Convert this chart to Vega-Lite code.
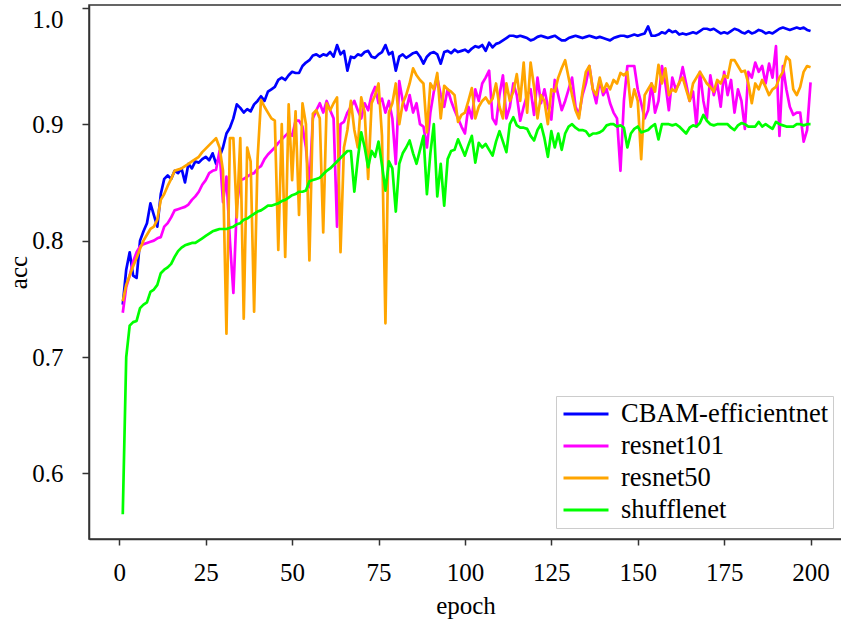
{
  "$schema": "https://vega.github.io/schema/vega-lite/v6.json",
  "width": 753,
  "height": 534,
  "autosize": {"type": "none"},
  "padding": {"left": 89, "top": 5, "right": 0, "bottom": 91},
  "background": "white",
  "config": {
    "view": {"stroke": "#333333", "strokeWidth": 1.5},
    "font": "Liberation Serif",
    "axis": {"grid": false, "labelColor": "#000000", "titleColor": "#000000", "tickColor": "#333333", "domainColor": "#333333", "domainWidth": 1.5, "tickWidth": 1.5, "labelFont": "Liberation Serif", "titleFont": "Liberation Serif", "labelFontSize": 25, "titleFontSize": 25, "titleFontWeight": "normal"}
  },
  "data": {"values": [
    {"epoch":1,"model":"CBAM-efficientnet","acc":0.745},{"epoch":2,"model":"CBAM-efficientnet","acc":0.775},{"epoch":3,"model":"CBAM-efficientnet","acc":0.790},{"epoch":4,"model":"CBAM-efficientnet","acc":0.770},{"epoch":5,"model":"CBAM-efficientnet","acc":0.768},
    {"epoch":6,"model":"CBAM-efficientnet","acc":0.800},{"epoch":7,"model":"CBAM-efficientnet","acc":0.808},{"epoch":8,"model":"CBAM-efficientnet","acc":0.815},{"epoch":9,"model":"CBAM-efficientnet","acc":0.832},{"epoch":10,"model":"CBAM-efficientnet","acc":0.822},
    {"epoch":11,"model":"CBAM-efficientnet","acc":0.812},{"epoch":12,"model":"CBAM-efficientnet","acc":0.840},{"epoch":13,"model":"CBAM-efficientnet","acc":0.853},{"epoch":14,"model":"CBAM-efficientnet","acc":0.856},{"epoch":15,"model":"CBAM-efficientnet","acc":0.853},
    {"epoch":16,"model":"CBAM-efficientnet","acc":0.860},{"epoch":17,"model":"CBAM-efficientnet","acc":0.858},{"epoch":18,"model":"CBAM-efficientnet","acc":0.862},{"epoch":19,"model":"CBAM-efficientnet","acc":0.850},{"epoch":20,"model":"CBAM-efficientnet","acc":0.866},
    {"epoch":21,"model":"CBAM-efficientnet","acc":0.862},{"epoch":22,"model":"CBAM-efficientnet","acc":0.868},{"epoch":23,"model":"CBAM-efficientnet","acc":0.867},{"epoch":24,"model":"CBAM-efficientnet","acc":0.870},{"epoch":25,"model":"CBAM-efficientnet","acc":0.872},
    {"epoch":26,"model":"CBAM-efficientnet","acc":0.869},{"epoch":27,"model":"CBAM-efficientnet","acc":0.875},{"epoch":28,"model":"CBAM-efficientnet","acc":0.866},{"epoch":29,"model":"CBAM-efficientnet","acc":0.872},{"epoch":30,"model":"CBAM-efficientnet","acc":0.880},
    {"epoch":31,"model":"CBAM-efficientnet","acc":0.892},{"epoch":32,"model":"CBAM-efficientnet","acc":0.897},{"epoch":33,"model":"CBAM-efficientnet","acc":0.905},{"epoch":34,"model":"CBAM-efficientnet","acc":0.917},{"epoch":35,"model":"CBAM-efficientnet","acc":0.914},
    {"epoch":36,"model":"CBAM-efficientnet","acc":0.910},{"epoch":37,"model":"CBAM-efficientnet","acc":0.913},{"epoch":38,"model":"CBAM-efficientnet","acc":0.911},{"epoch":39,"model":"CBAM-efficientnet","acc":0.917},{"epoch":40,"model":"CBAM-efficientnet","acc":0.920},
    {"epoch":41,"model":"CBAM-efficientnet","acc":0.924},{"epoch":42,"model":"CBAM-efficientnet","acc":0.920},{"epoch":43,"model":"CBAM-efficientnet","acc":0.928},{"epoch":44,"model":"CBAM-efficientnet","acc":0.930},{"epoch":45,"model":"CBAM-efficientnet","acc":0.932},
    {"epoch":46,"model":"CBAM-efficientnet","acc":0.938},{"epoch":47,"model":"CBAM-efficientnet","acc":0.940},{"epoch":48,"model":"CBAM-efficientnet","acc":0.938},{"epoch":49,"model":"CBAM-efficientnet","acc":0.942},{"epoch":50,"model":"CBAM-efficientnet","acc":0.945},
    {"epoch":51,"model":"CBAM-efficientnet","acc":0.944},{"epoch":52,"model":"CBAM-efficientnet","acc":0.944},{"epoch":53,"model":"CBAM-efficientnet","acc":0.950},{"epoch":54,"model":"CBAM-efficientnet","acc":0.953},{"epoch":55,"model":"CBAM-efficientnet","acc":0.955},
    {"epoch":56,"model":"CBAM-efficientnet","acc":0.959},{"epoch":57,"model":"CBAM-efficientnet","acc":0.960},{"epoch":58,"model":"CBAM-efficientnet","acc":0.958},{"epoch":59,"model":"CBAM-efficientnet","acc":0.960},{"epoch":60,"model":"CBAM-efficientnet","acc":0.959},
    {"epoch":61,"model":"CBAM-efficientnet","acc":0.962},{"epoch":62,"model":"CBAM-efficientnet","acc":0.958},{"epoch":63,"model":"CBAM-efficientnet","acc":0.968},{"epoch":64,"model":"CBAM-efficientnet","acc":0.960},{"epoch":65,"model":"CBAM-efficientnet","acc":0.963},
    {"epoch":66,"model":"CBAM-efficientnet","acc":0.946},{"epoch":67,"model":"CBAM-efficientnet","acc":0.958},{"epoch":68,"model":"CBAM-efficientnet","acc":0.957},{"epoch":69,"model":"CBAM-efficientnet","acc":0.960},{"epoch":70,"model":"CBAM-efficientnet","acc":0.959},
    {"epoch":71,"model":"CBAM-efficientnet","acc":0.962},{"epoch":72,"model":"CBAM-efficientnet","acc":0.963},{"epoch":73,"model":"CBAM-efficientnet","acc":0.958},{"epoch":74,"model":"CBAM-efficientnet","acc":0.957},{"epoch":75,"model":"CBAM-efficientnet","acc":0.960},
    {"epoch":76,"model":"CBAM-efficientnet","acc":0.962},{"epoch":77,"model":"CBAM-efficientnet","acc":0.968},{"epoch":78,"model":"CBAM-efficientnet","acc":0.960},{"epoch":79,"model":"CBAM-efficientnet","acc":0.962},{"epoch":80,"model":"CBAM-efficientnet","acc":0.946},
    {"epoch":81,"model":"CBAM-efficientnet","acc":0.958},{"epoch":82,"model":"CBAM-efficientnet","acc":0.960},{"epoch":83,"model":"CBAM-efficientnet","acc":0.957},{"epoch":84,"model":"CBAM-efficientnet","acc":0.959},{"epoch":85,"model":"CBAM-efficientnet","acc":0.961},
    {"epoch":86,"model":"CBAM-efficientnet","acc":0.962},{"epoch":87,"model":"CBAM-efficientnet","acc":0.958},{"epoch":88,"model":"CBAM-efficientnet","acc":0.952},{"epoch":89,"model":"CBAM-efficientnet","acc":0.958},{"epoch":90,"model":"CBAM-efficientnet","acc":0.961},
    {"epoch":91,"model":"CBAM-efficientnet","acc":0.962},{"epoch":92,"model":"CBAM-efficientnet","acc":0.960},{"epoch":93,"model":"CBAM-efficientnet","acc":0.952},{"epoch":94,"model":"CBAM-efficientnet","acc":0.962},{"epoch":95,"model":"CBAM-efficientnet","acc":0.963},
    {"epoch":96,"model":"CBAM-efficientnet","acc":0.961},{"epoch":97,"model":"CBAM-efficientnet","acc":0.964},{"epoch":98,"model":"CBAM-efficientnet","acc":0.962},{"epoch":99,"model":"CBAM-efficientnet","acc":0.963},{"epoch":100,"model":"CBAM-efficientnet","acc":0.964},
    {"epoch":101,"model":"CBAM-efficientnet","acc":0.962},{"epoch":102,"model":"CBAM-efficientnet","acc":0.965},{"epoch":103,"model":"CBAM-efficientnet","acc":0.967},{"epoch":104,"model":"CBAM-efficientnet","acc":0.966},{"epoch":105,"model":"CBAM-efficientnet","acc":0.968},
    {"epoch":106,"model":"CBAM-efficientnet","acc":0.963},{"epoch":107,"model":"CBAM-efficientnet","acc":0.970},{"epoch":108,"model":"CBAM-efficientnet","acc":0.966},{"epoch":109,"model":"CBAM-efficientnet","acc":0.969},{"epoch":110,"model":"CBAM-efficientnet","acc":0.970},
    {"epoch":111,"model":"CBAM-efficientnet","acc":0.972},{"epoch":112,"model":"CBAM-efficientnet","acc":0.974},{"epoch":113,"model":"CBAM-efficientnet","acc":0.976},{"epoch":114,"model":"CBAM-efficientnet","acc":0.976},{"epoch":115,"model":"CBAM-efficientnet","acc":0.975},
    {"epoch":116,"model":"CBAM-efficientnet","acc":0.976},{"epoch":117,"model":"CBAM-efficientnet","acc":0.975},{"epoch":118,"model":"CBAM-efficientnet","acc":0.974},{"epoch":119,"model":"CBAM-efficientnet","acc":0.972},{"epoch":120,"model":"CBAM-efficientnet","acc":0.973},
    {"epoch":121,"model":"CBAM-efficientnet","acc":0.975},{"epoch":122,"model":"CBAM-efficientnet","acc":0.976},{"epoch":123,"model":"CBAM-efficientnet","acc":0.975},{"epoch":124,"model":"CBAM-efficientnet","acc":0.974},{"epoch":125,"model":"CBAM-efficientnet","acc":0.975},
    {"epoch":126,"model":"CBAM-efficientnet","acc":0.976},{"epoch":127,"model":"CBAM-efficientnet","acc":0.974},{"epoch":128,"model":"CBAM-efficientnet","acc":0.972},{"epoch":129,"model":"CBAM-efficientnet","acc":0.972},{"epoch":130,"model":"CBAM-efficientnet","acc":0.974},
    {"epoch":131,"model":"CBAM-efficientnet","acc":0.975},{"epoch":132,"model":"CBAM-efficientnet","acc":0.976},{"epoch":133,"model":"CBAM-efficientnet","acc":0.975},{"epoch":134,"model":"CBAM-efficientnet","acc":0.974},{"epoch":135,"model":"CBAM-efficientnet","acc":0.975},
    {"epoch":136,"model":"CBAM-efficientnet","acc":0.976},{"epoch":137,"model":"CBAM-efficientnet","acc":0.975},{"epoch":138,"model":"CBAM-efficientnet","acc":0.974},{"epoch":139,"model":"CBAM-efficientnet","acc":0.975},{"epoch":140,"model":"CBAM-efficientnet","acc":0.974},
    {"epoch":141,"model":"CBAM-efficientnet","acc":0.973},{"epoch":142,"model":"CBAM-efficientnet","acc":0.972},{"epoch":143,"model":"CBAM-efficientnet","acc":0.974},{"epoch":144,"model":"CBAM-efficientnet","acc":0.975},{"epoch":145,"model":"CBAM-efficientnet","acc":0.976},
    {"epoch":146,"model":"CBAM-efficientnet","acc":0.976},{"epoch":147,"model":"CBAM-efficientnet","acc":0.975},{"epoch":148,"model":"CBAM-efficientnet","acc":0.976},{"epoch":149,"model":"CBAM-efficientnet","acc":0.977},{"epoch":150,"model":"CBAM-efficientnet","acc":0.976},
    {"epoch":151,"model":"CBAM-efficientnet","acc":0.977},{"epoch":152,"model":"CBAM-efficientnet","acc":0.978},{"epoch":153,"model":"CBAM-efficientnet","acc":0.984},{"epoch":154,"model":"CBAM-efficientnet","acc":0.976},{"epoch":155,"model":"CBAM-efficientnet","acc":0.976},
    {"epoch":156,"model":"CBAM-efficientnet","acc":0.977},{"epoch":157,"model":"CBAM-efficientnet","acc":0.979},{"epoch":158,"model":"CBAM-efficientnet","acc":0.978},{"epoch":159,"model":"CBAM-efficientnet","acc":0.981},{"epoch":160,"model":"CBAM-efficientnet","acc":0.979},
    {"epoch":161,"model":"CBAM-efficientnet","acc":0.980},{"epoch":162,"model":"CBAM-efficientnet","acc":0.977},{"epoch":163,"model":"CBAM-efficientnet","acc":0.978},{"epoch":164,"model":"CBAM-efficientnet","acc":0.977},{"epoch":165,"model":"CBAM-efficientnet","acc":0.978},
    {"epoch":166,"model":"CBAM-efficientnet","acc":0.979},{"epoch":167,"model":"CBAM-efficientnet","acc":0.978},{"epoch":168,"model":"CBAM-efficientnet","acc":0.980},{"epoch":169,"model":"CBAM-efficientnet","acc":0.982},{"epoch":170,"model":"CBAM-efficientnet","acc":0.982},
    {"epoch":171,"model":"CBAM-efficientnet","acc":0.981},{"epoch":172,"model":"CBAM-efficientnet","acc":0.982},{"epoch":173,"model":"CBAM-efficientnet","acc":0.980},{"epoch":174,"model":"CBAM-efficientnet","acc":0.978},{"epoch":175,"model":"CBAM-efficientnet","acc":0.979},
    {"epoch":176,"model":"CBAM-efficientnet","acc":0.978},{"epoch":177,"model":"CBAM-efficientnet","acc":0.980},{"epoch":178,"model":"CBAM-efficientnet","acc":0.982},{"epoch":179,"model":"CBAM-efficientnet","acc":0.981},{"epoch":180,"model":"CBAM-efficientnet","acc":0.979},
    {"epoch":181,"model":"CBAM-efficientnet","acc":0.978},{"epoch":182,"model":"CBAM-efficientnet","acc":0.980},{"epoch":183,"model":"CBAM-efficientnet","acc":0.978},{"epoch":184,"model":"CBAM-efficientnet","acc":0.979},{"epoch":185,"model":"CBAM-efficientnet","acc":0.981},
    {"epoch":186,"model":"CBAM-efficientnet","acc":0.980},{"epoch":187,"model":"CBAM-efficientnet","acc":0.978},{"epoch":188,"model":"CBAM-efficientnet","acc":0.979},{"epoch":189,"model":"CBAM-efficientnet","acc":0.978},{"epoch":190,"model":"CBAM-efficientnet","acc":0.980},
    {"epoch":191,"model":"CBAM-efficientnet","acc":0.982},{"epoch":192,"model":"CBAM-efficientnet","acc":0.983},{"epoch":193,"model":"CBAM-efficientnet","acc":0.982},{"epoch":194,"model":"CBAM-efficientnet","acc":0.981},{"epoch":195,"model":"CBAM-efficientnet","acc":0.982},
    {"epoch":196,"model":"CBAM-efficientnet","acc":0.983},{"epoch":197,"model":"CBAM-efficientnet","acc":0.982},{"epoch":198,"model":"CBAM-efficientnet","acc":0.983},{"epoch":199,"model":"CBAM-efficientnet","acc":0.981},{"epoch":200,"model":"CBAM-efficientnet","acc":0.980},

    {"epoch":1,"model":"resnet101","acc":0.738},{"epoch":2,"model":"resnet101","acc":0.760},{"epoch":3,"model":"resnet101","acc":0.770},{"epoch":4,"model":"resnet101","acc":0.782},{"epoch":5,"model":"resnet101","acc":0.790},
    {"epoch":6,"model":"resnet101","acc":0.795},{"epoch":7,"model":"resnet101","acc":0.797},{"epoch":8,"model":"resnet101","acc":0.798},{"epoch":9,"model":"resnet101","acc":0.799},{"epoch":10,"model":"resnet101","acc":0.800},
    {"epoch":11,"model":"resnet101","acc":0.802},{"epoch":12,"model":"resnet101","acc":0.803},{"epoch":13,"model":"resnet101","acc":0.812},{"epoch":14,"model":"resnet101","acc":0.815},{"epoch":15,"model":"resnet101","acc":0.820},
    {"epoch":16,"model":"resnet101","acc":0.826},{"epoch":17,"model":"resnet101","acc":0.827},{"epoch":18,"model":"resnet101","acc":0.828},{"epoch":19,"model":"resnet101","acc":0.829},{"epoch":20,"model":"resnet101","acc":0.831},
    {"epoch":21,"model":"resnet101","acc":0.835},{"epoch":22,"model":"resnet101","acc":0.838},{"epoch":23,"model":"resnet101","acc":0.842},{"epoch":24,"model":"resnet101","acc":0.848},{"epoch":25,"model":"resnet101","acc":0.852},
    {"epoch":26,"model":"resnet101","acc":0.858},{"epoch":27,"model":"resnet101","acc":0.860},{"epoch":28,"model":"resnet101","acc":0.861},{"epoch":29,"model":"resnet101","acc":0.877},{"epoch":30,"model":"resnet101","acc":0.833},
    {"epoch":31,"model":"resnet101","acc":0.855},{"epoch":32,"model":"resnet101","acc":0.800},{"epoch":33,"model":"resnet101","acc":0.755},{"epoch":34,"model":"resnet101","acc":0.830},{"epoch":35,"model":"resnet101","acc":0.852},
    {"epoch":36,"model":"resnet101","acc":0.853},{"epoch":37,"model":"resnet101","acc":0.855},{"epoch":38,"model":"resnet101","acc":0.857},{"epoch":39,"model":"resnet101","acc":0.858},{"epoch":40,"model":"resnet101","acc":0.862},
    {"epoch":41,"model":"resnet101","acc":0.864},{"epoch":42,"model":"resnet101","acc":0.870},{"epoch":43,"model":"resnet101","acc":0.874},{"epoch":44,"model":"resnet101","acc":0.877},{"epoch":45,"model":"resnet101","acc":0.880},
    {"epoch":46,"model":"resnet101","acc":0.884},{"epoch":47,"model":"resnet101","acc":0.887},{"epoch":48,"model":"resnet101","acc":0.890},{"epoch":49,"model":"resnet101","acc":0.893},{"epoch":50,"model":"resnet101","acc":0.890},
    {"epoch":51,"model":"resnet101","acc":0.903},{"epoch":52,"model":"resnet101","acc":0.903},{"epoch":53,"model":"resnet101","acc":0.898},{"epoch":54,"model":"resnet101","acc":0.880},{"epoch":55,"model":"resnet101","acc":0.846},
    {"epoch":56,"model":"resnet101","acc":0.905},{"epoch":57,"model":"resnet101","acc":0.912},{"epoch":58,"model":"resnet101","acc":0.918},{"epoch":59,"model":"resnet101","acc":0.910},{"epoch":60,"model":"resnet101","acc":0.920},
    {"epoch":61,"model":"resnet101","acc":0.912},{"epoch":62,"model":"resnet101","acc":0.905},{"epoch":63,"model":"resnet101","acc":0.812},{"epoch":64,"model":"resnet101","acc":0.900},{"epoch":65,"model":"resnet101","acc":0.902},
    {"epoch":66,"model":"resnet101","acc":0.910},{"epoch":67,"model":"resnet101","acc":0.915},{"epoch":68,"model":"resnet101","acc":0.920},{"epoch":69,"model":"resnet101","acc":0.912},{"epoch":70,"model":"resnet101","acc":0.905},
    {"epoch":71,"model":"resnet101","acc":0.918},{"epoch":72,"model":"resnet101","acc":0.912},{"epoch":73,"model":"resnet101","acc":0.925},{"epoch":74,"model":"resnet101","acc":0.932},{"epoch":75,"model":"resnet101","acc":0.918},
    {"epoch":76,"model":"resnet101","acc":0.922},{"epoch":77,"model":"resnet101","acc":0.910},{"epoch":78,"model":"resnet101","acc":0.920},{"epoch":79,"model":"resnet101","acc":0.905},{"epoch":80,"model":"resnet101","acc":0.866},
    {"epoch":81,"model":"resnet101","acc":0.937},{"epoch":82,"model":"resnet101","acc":0.920},{"epoch":83,"model":"resnet101","acc":0.912},{"epoch":84,"model":"resnet101","acc":0.925},{"epoch":85,"model":"resnet101","acc":0.910},
    {"epoch":86,"model":"resnet101","acc":0.918},{"epoch":87,"model":"resnet101","acc":0.900},{"epoch":88,"model":"resnet101","acc":0.898},{"epoch":89,"model":"resnet101","acc":0.880},{"epoch":90,"model":"resnet101","acc":0.910},
    {"epoch":91,"model":"resnet101","acc":0.928},{"epoch":92,"model":"resnet101","acc":0.940},{"epoch":93,"model":"resnet101","acc":0.925},{"epoch":94,"model":"resnet101","acc":0.915},{"epoch":95,"model":"resnet101","acc":0.930},
    {"epoch":96,"model":"resnet101","acc":0.920},{"epoch":97,"model":"resnet101","acc":0.912},{"epoch":98,"model":"resnet101","acc":0.905},{"epoch":99,"model":"resnet101","acc":0.898},{"epoch":100,"model":"resnet101","acc":0.892},
    {"epoch":101,"model":"resnet101","acc":0.915},{"epoch":102,"model":"resnet101","acc":0.905},{"epoch":103,"model":"resnet101","acc":0.930},{"epoch":104,"model":"resnet101","acc":0.920},{"epoch":105,"model":"resnet101","acc":0.935},
    {"epoch":106,"model":"resnet101","acc":0.940},{"epoch":107,"model":"resnet101","acc":0.946},{"epoch":108,"model":"resnet101","acc":0.905},{"epoch":109,"model":"resnet101","acc":0.900},{"epoch":110,"model":"resnet101","acc":0.925},
    {"epoch":111,"model":"resnet101","acc":0.942},{"epoch":112,"model":"resnet101","acc":0.905},{"epoch":113,"model":"resnet101","acc":0.915},{"epoch":114,"model":"resnet101","acc":0.935},{"epoch":115,"model":"resnet101","acc":0.925},
    {"epoch":116,"model":"resnet101","acc":0.903},{"epoch":117,"model":"resnet101","acc":0.915},{"epoch":118,"model":"resnet101","acc":0.925},{"epoch":119,"model":"resnet101","acc":0.930},{"epoch":120,"model":"resnet101","acc":0.908},
    {"epoch":121,"model":"resnet101","acc":0.940},{"epoch":122,"model":"resnet101","acc":0.918},{"epoch":123,"model":"resnet101","acc":0.930},{"epoch":124,"model":"resnet101","acc":0.915},{"epoch":125,"model":"resnet101","acc":0.904},
    {"epoch":126,"model":"resnet101","acc":0.938},{"epoch":127,"model":"resnet101","acc":0.925},{"epoch":128,"model":"resnet101","acc":0.912},{"epoch":129,"model":"resnet101","acc":0.920},{"epoch":130,"model":"resnet101","acc":0.930},
    {"epoch":131,"model":"resnet101","acc":0.940},{"epoch":132,"model":"resnet101","acc":0.915},{"epoch":133,"model":"resnet101","acc":0.908},{"epoch":134,"model":"resnet101","acc":0.925},{"epoch":135,"model":"resnet101","acc":0.935},
    {"epoch":136,"model":"resnet101","acc":0.950},{"epoch":137,"model":"resnet101","acc":0.930},{"epoch":138,"model":"resnet101","acc":0.918},{"epoch":139,"model":"resnet101","acc":0.938},{"epoch":140,"model":"resnet101","acc":0.925},
    {"epoch":141,"model":"resnet101","acc":0.930},{"epoch":142,"model":"resnet101","acc":0.918},{"epoch":143,"model":"resnet101","acc":0.910},{"epoch":144,"model":"resnet101","acc":0.905},{"epoch":145,"model":"resnet101","acc":0.860},
    {"epoch":146,"model":"resnet101","acc":0.920},{"epoch":147,"model":"resnet101","acc":0.950},{"epoch":148,"model":"resnet101","acc":0.950},{"epoch":149,"model":"resnet101","acc":0.950},{"epoch":150,"model":"resnet101","acc":0.930},
    {"epoch":151,"model":"resnet101","acc":0.918},{"epoch":152,"model":"resnet101","acc":0.905},{"epoch":153,"model":"resnet101","acc":0.912},{"epoch":154,"model":"resnet101","acc":0.935},{"epoch":155,"model":"resnet101","acc":0.910},
    {"epoch":156,"model":"resnet101","acc":0.920},{"epoch":157,"model":"resnet101","acc":0.950},{"epoch":158,"model":"resnet101","acc":0.935},{"epoch":159,"model":"resnet101","acc":0.912},{"epoch":160,"model":"resnet101","acc":0.940},
    {"epoch":161,"model":"resnet101","acc":0.930},{"epoch":162,"model":"resnet101","acc":0.935},{"epoch":163,"model":"resnet101","acc":0.949},{"epoch":164,"model":"resnet101","acc":0.935},{"epoch":165,"model":"resnet101","acc":0.920},
    {"epoch":166,"model":"resnet101","acc":0.928},{"epoch":167,"model":"resnet101","acc":0.898},{"epoch":168,"model":"resnet101","acc":0.945},{"epoch":169,"model":"resnet101","acc":0.920},{"epoch":170,"model":"resnet101","acc":0.905},
    {"epoch":171,"model":"resnet101","acc":0.942},{"epoch":172,"model":"resnet101","acc":0.925},{"epoch":173,"model":"resnet101","acc":0.935},{"epoch":174,"model":"resnet101","acc":0.915},{"epoch":175,"model":"resnet101","acc":0.945},
    {"epoch":176,"model":"resnet101","acc":0.925},{"epoch":177,"model":"resnet101","acc":0.938},{"epoch":178,"model":"resnet101","acc":0.910},{"epoch":179,"model":"resnet101","acc":0.930},{"epoch":180,"model":"resnet101","acc":0.920},
    {"epoch":181,"model":"resnet101","acc":0.896},{"epoch":182,"model":"resnet101","acc":0.945},{"epoch":183,"model":"resnet101","acc":0.940},{"epoch":184,"model":"resnet101","acc":0.953},{"epoch":185,"model":"resnet101","acc":0.945},
    {"epoch":186,"model":"resnet101","acc":0.950},{"epoch":187,"model":"resnet101","acc":0.935},{"epoch":188,"model":"resnet101","acc":0.952},{"epoch":189,"model":"resnet101","acc":0.940},{"epoch":190,"model":"resnet101","acc":0.967},
    {"epoch":191,"model":"resnet101","acc":0.890},{"epoch":192,"model":"resnet101","acc":0.950},{"epoch":193,"model":"resnet101","acc":0.930},{"epoch":194,"model":"resnet101","acc":0.915},{"epoch":195,"model":"resnet101","acc":0.908},
    {"epoch":196,"model":"resnet101","acc":0.910},{"epoch":197,"model":"resnet101","acc":0.910},{"epoch":198,"model":"resnet101","acc":0.885},{"epoch":199,"model":"resnet101","acc":0.895},{"epoch":200,"model":"resnet101","acc":0.936},

    {"epoch":1,"model":"resnet50","acc":0.748},{"epoch":2,"model":"resnet50","acc":0.762},{"epoch":3,"model":"resnet50","acc":0.770},{"epoch":4,"model":"resnet50","acc":0.778},{"epoch":5,"model":"resnet50","acc":0.785},
    {"epoch":6,"model":"resnet50","acc":0.793},{"epoch":7,"model":"resnet50","acc":0.800},{"epoch":8,"model":"resnet50","acc":0.805},{"epoch":9,"model":"resnet50","acc":0.810},{"epoch":10,"model":"resnet50","acc":0.812},
    {"epoch":11,"model":"resnet50","acc":0.818},{"epoch":12,"model":"resnet50","acc":0.835},{"epoch":13,"model":"resnet50","acc":0.840},{"epoch":14,"model":"resnet50","acc":0.847},{"epoch":15,"model":"resnet50","acc":0.853},
    {"epoch":16,"model":"resnet50","acc":0.860},{"epoch":17,"model":"resnet50","acc":0.861},{"epoch":18,"model":"resnet50","acc":0.862},{"epoch":19,"model":"resnet50","acc":0.864},{"epoch":20,"model":"resnet50","acc":0.866},
    {"epoch":21,"model":"resnet50","acc":0.868},{"epoch":22,"model":"resnet50","acc":0.870},{"epoch":23,"model":"resnet50","acc":0.872},{"epoch":24,"model":"resnet50","acc":0.876},{"epoch":25,"model":"resnet50","acc":0.879},
    {"epoch":26,"model":"resnet50","acc":0.882},{"epoch":27,"model":"resnet50","acc":0.885},{"epoch":28,"model":"resnet50","acc":0.888},{"epoch":29,"model":"resnet50","acc":0.880},{"epoch":30,"model":"resnet50","acc":0.860},
    {"epoch":31,"model":"resnet50","acc":0.720},{"epoch":32,"model":"resnet50","acc":0.888},{"epoch":33,"model":"resnet50","acc":0.888},{"epoch":34,"model":"resnet50","acc":0.820},{"epoch":35,"model":"resnet50","acc":0.888},
    {"epoch":36,"model":"resnet50","acc":0.733},{"epoch":37,"model":"resnet50","acc":0.880},{"epoch":38,"model":"resnet50","acc":0.868},{"epoch":39,"model":"resnet50","acc":0.739},{"epoch":40,"model":"resnet50","acc":0.870},
    {"epoch":41,"model":"resnet50","acc":0.921},{"epoch":42,"model":"resnet50","acc":0.915},{"epoch":43,"model":"resnet50","acc":0.910},{"epoch":44,"model":"resnet50","acc":0.905},{"epoch":45,"model":"resnet50","acc":0.903},
    {"epoch":46,"model":"resnet50","acc":0.792},{"epoch":47,"model":"resnet50","acc":0.900},{"epoch":48,"model":"resnet50","acc":0.786},{"epoch":49,"model":"resnet50","acc":0.917},{"epoch":50,"model":"resnet50","acc":0.852},
    {"epoch":51,"model":"resnet50","acc":0.911},{"epoch":52,"model":"resnet50","acc":0.822},{"epoch":53,"model":"resnet50","acc":0.918},{"epoch":54,"model":"resnet50","acc":0.900},{"epoch":55,"model":"resnet50","acc":0.783},
    {"epoch":56,"model":"resnet50","acc":0.909},{"epoch":57,"model":"resnet50","acc":0.912},{"epoch":58,"model":"resnet50","acc":0.905},{"epoch":59,"model":"resnet50","acc":0.807},{"epoch":60,"model":"resnet50","acc":0.918},
    {"epoch":61,"model":"resnet50","acc":0.912},{"epoch":62,"model":"resnet50","acc":0.918},{"epoch":63,"model":"resnet50","acc":0.923},{"epoch":64,"model":"resnet50","acc":0.790},{"epoch":65,"model":"resnet50","acc":0.880},
    {"epoch":66,"model":"resnet50","acc":0.895},{"epoch":67,"model":"resnet50","acc":0.920},{"epoch":68,"model":"resnet50","acc":0.895},{"epoch":69,"model":"resnet50","acc":0.880},{"epoch":70,"model":"resnet50","acc":0.923},
    {"epoch":71,"model":"resnet50","acc":0.910},{"epoch":72,"model":"resnet50","acc":0.853},{"epoch":73,"model":"resnet50","acc":0.918},{"epoch":74,"model":"resnet50","acc":0.925},{"epoch":75,"model":"resnet50","acc":0.935},
    {"epoch":76,"model":"resnet50","acc":0.890},{"epoch":77,"model":"resnet50","acc":0.729},{"epoch":78,"model":"resnet50","acc":0.910},{"epoch":79,"model":"resnet50","acc":0.918},{"epoch":80,"model":"resnet50","acc":0.935},
    {"epoch":81,"model":"resnet50","acc":0.900},{"epoch":82,"model":"resnet50","acc":0.918},{"epoch":83,"model":"resnet50","acc":0.925},{"epoch":84,"model":"resnet50","acc":0.935},{"epoch":85,"model":"resnet50","acc":0.948},
    {"epoch":86,"model":"resnet50","acc":0.942},{"epoch":87,"model":"resnet50","acc":0.938},{"epoch":88,"model":"resnet50","acc":0.935},{"epoch":89,"model":"resnet50","acc":0.893},{"epoch":90,"model":"resnet50","acc":0.935},
    {"epoch":91,"model":"resnet50","acc":0.930},{"epoch":92,"model":"resnet50","acc":0.944},{"epoch":93,"model":"resnet50","acc":0.905},{"epoch":94,"model":"resnet50","acc":0.933},{"epoch":95,"model":"resnet50","acc":0.930},
    {"epoch":96,"model":"resnet50","acc":0.928},{"epoch":97,"model":"resnet50","acc":0.925},{"epoch":98,"model":"resnet50","acc":0.902},{"epoch":99,"model":"resnet50","acc":0.908},{"epoch":100,"model":"resnet50","acc":0.910},
    {"epoch":101,"model":"resnet50","acc":0.920},{"epoch":102,"model":"resnet50","acc":0.931},{"epoch":103,"model":"resnet50","acc":0.905},{"epoch":104,"model":"resnet50","acc":0.915},{"epoch":105,"model":"resnet50","acc":0.920},
    {"epoch":106,"model":"resnet50","acc":0.923},{"epoch":107,"model":"resnet50","acc":0.918},{"epoch":108,"model":"resnet50","acc":0.922},{"epoch":109,"model":"resnet50","acc":0.935},{"epoch":110,"model":"resnet50","acc":0.915},
    {"epoch":111,"model":"resnet50","acc":0.905},{"epoch":112,"model":"resnet50","acc":0.935},{"epoch":113,"model":"resnet50","acc":0.920},{"epoch":114,"model":"resnet50","acc":0.928},{"epoch":115,"model":"resnet50","acc":0.943},
    {"epoch":116,"model":"resnet50","acc":0.920},{"epoch":117,"model":"resnet50","acc":0.953},{"epoch":118,"model":"resnet50","acc":0.910},{"epoch":119,"model":"resnet50","acc":0.953},{"epoch":120,"model":"resnet50","acc":0.932},
    {"epoch":121,"model":"resnet50","acc":0.905},{"epoch":122,"model":"resnet50","acc":0.925},{"epoch":123,"model":"resnet50","acc":0.920},{"epoch":124,"model":"resnet50","acc":0.900},{"epoch":125,"model":"resnet50","acc":0.930},
    {"epoch":126,"model":"resnet50","acc":0.928},{"epoch":127,"model":"resnet50","acc":0.940},{"epoch":128,"model":"resnet50","acc":0.948},{"epoch":129,"model":"resnet50","acc":0.955},{"epoch":130,"model":"resnet50","acc":0.940},
    {"epoch":131,"model":"resnet50","acc":0.925},{"epoch":132,"model":"resnet50","acc":0.912},{"epoch":133,"model":"resnet50","acc":0.905},{"epoch":134,"model":"resnet50","acc":0.928},{"epoch":135,"model":"resnet50","acc":0.945},
    {"epoch":136,"model":"resnet50","acc":0.950},{"epoch":137,"model":"resnet50","acc":0.930},{"epoch":138,"model":"resnet50","acc":0.925},{"epoch":139,"model":"resnet50","acc":0.940},{"epoch":140,"model":"resnet50","acc":0.928},
    {"epoch":141,"model":"resnet50","acc":0.935},{"epoch":142,"model":"resnet50","acc":0.930},{"epoch":143,"model":"resnet50","acc":0.938},{"epoch":144,"model":"resnet50","acc":0.935},{"epoch":145,"model":"resnet50","acc":0.944},
    {"epoch":146,"model":"resnet50","acc":0.942},{"epoch":147,"model":"resnet50","acc":0.945},{"epoch":148,"model":"resnet50","acc":0.915},{"epoch":149,"model":"resnet50","acc":0.930},{"epoch":150,"model":"resnet50","acc":0.920},
    {"epoch":151,"model":"resnet50","acc":0.870},{"epoch":152,"model":"resnet50","acc":0.925},{"epoch":153,"model":"resnet50","acc":0.930},{"epoch":154,"model":"resnet50","acc":0.935},{"epoch":155,"model":"resnet50","acc":0.928},
    {"epoch":156,"model":"resnet50","acc":0.951},{"epoch":157,"model":"resnet50","acc":0.935},{"epoch":158,"model":"resnet50","acc":0.948},{"epoch":159,"model":"resnet50","acc":0.925},{"epoch":160,"model":"resnet50","acc":0.930},
    {"epoch":161,"model":"resnet50","acc":0.928},{"epoch":162,"model":"resnet50","acc":0.936},{"epoch":163,"model":"resnet50","acc":0.940},{"epoch":164,"model":"resnet50","acc":0.930},{"epoch":165,"model":"resnet50","acc":0.920},
    {"epoch":166,"model":"resnet50","acc":0.935},{"epoch":167,"model":"resnet50","acc":0.940},{"epoch":168,"model":"resnet50","acc":0.945},{"epoch":169,"model":"resnet50","acc":0.940},{"epoch":170,"model":"resnet50","acc":0.935},
    {"epoch":171,"model":"resnet50","acc":0.932},{"epoch":172,"model":"resnet50","acc":0.928},{"epoch":173,"model":"resnet50","acc":0.938},{"epoch":174,"model":"resnet50","acc":0.935},{"epoch":175,"model":"resnet50","acc":0.942},
    {"epoch":176,"model":"resnet50","acc":0.940},{"epoch":177,"model":"resnet50","acc":0.955},{"epoch":178,"model":"resnet50","acc":0.955},{"epoch":179,"model":"resnet50","acc":0.950},{"epoch":180,"model":"resnet50","acc":0.945},
    {"epoch":181,"model":"resnet50","acc":0.946},{"epoch":182,"model":"resnet50","acc":0.935},{"epoch":183,"model":"resnet50","acc":0.918},{"epoch":184,"model":"resnet50","acc":0.935},{"epoch":185,"model":"resnet50","acc":0.930},
    {"epoch":186,"model":"resnet50","acc":0.938},{"epoch":187,"model":"resnet50","acc":0.932},{"epoch":188,"model":"resnet50","acc":0.925},{"epoch":189,"model":"resnet50","acc":0.930},{"epoch":190,"model":"resnet50","acc":0.932},
    {"epoch":191,"model":"resnet50","acc":0.940},{"epoch":192,"model":"resnet50","acc":0.945},{"epoch":193,"model":"resnet50","acc":0.958},{"epoch":194,"model":"resnet50","acc":0.955},{"epoch":195,"model":"resnet50","acc":0.930},
    {"epoch":196,"model":"resnet50","acc":0.925},{"epoch":197,"model":"resnet50","acc":0.932},{"epoch":198,"model":"resnet50","acc":0.945},{"epoch":199,"model":"resnet50","acc":0.950},{"epoch":200,"model":"resnet50","acc":0.949},

    {"epoch":1,"model":"shufflenet","acc":0.565},{"epoch":2,"model":"shufflenet","acc":0.700},{"epoch":3,"model":"shufflenet","acc":0.727},{"epoch":4,"model":"shufflenet","acc":0.730},{"epoch":5,"model":"shufflenet","acc":0.731},
    {"epoch":6,"model":"shufflenet","acc":0.742},{"epoch":7,"model":"shufflenet","acc":0.745},{"epoch":8,"model":"shufflenet","acc":0.747},{"epoch":9,"model":"shufflenet","acc":0.756},{"epoch":10,"model":"shufflenet","acc":0.758},
    {"epoch":11,"model":"shufflenet","acc":0.762},{"epoch":12,"model":"shufflenet","acc":0.772},{"epoch":13,"model":"shufflenet","acc":0.775},{"epoch":14,"model":"shufflenet","acc":0.777},{"epoch":15,"model":"shufflenet","acc":0.780},
    {"epoch":16,"model":"shufflenet","acc":0.786},{"epoch":17,"model":"shufflenet","acc":0.791},{"epoch":18,"model":"shufflenet","acc":0.794},{"epoch":19,"model":"shufflenet","acc":0.796},{"epoch":20,"model":"shufflenet","acc":0.797},
    {"epoch":21,"model":"shufflenet","acc":0.798},{"epoch":22,"model":"shufflenet","acc":0.798},{"epoch":23,"model":"shufflenet","acc":0.800},{"epoch":24,"model":"shufflenet","acc":0.802},{"epoch":25,"model":"shufflenet","acc":0.804},
    {"epoch":26,"model":"shufflenet","acc":0.806},{"epoch":27,"model":"shufflenet","acc":0.808},{"epoch":28,"model":"shufflenet","acc":0.809},{"epoch":29,"model":"shufflenet","acc":0.810},{"epoch":30,"model":"shufflenet","acc":0.810},
    {"epoch":31,"model":"shufflenet","acc":0.810},{"epoch":32,"model":"shufflenet","acc":0.811},{"epoch":33,"model":"shufflenet","acc":0.812},{"epoch":34,"model":"shufflenet","acc":0.814},{"epoch":35,"model":"shufflenet","acc":0.815},
    {"epoch":36,"model":"shufflenet","acc":0.818},{"epoch":37,"model":"shufflenet","acc":0.819},{"epoch":38,"model":"shufflenet","acc":0.821},{"epoch":39,"model":"shufflenet","acc":0.823},{"epoch":40,"model":"shufflenet","acc":0.825},
    {"epoch":41,"model":"shufflenet","acc":0.826},{"epoch":42,"model":"shufflenet","acc":0.828},{"epoch":43,"model":"shufflenet","acc":0.830},{"epoch":44,"model":"shufflenet","acc":0.830},{"epoch":45,"model":"shufflenet","acc":0.831},
    {"epoch":46,"model":"shufflenet","acc":0.832},{"epoch":47,"model":"shufflenet","acc":0.834},{"epoch":48,"model":"shufflenet","acc":0.835},{"epoch":49,"model":"shufflenet","acc":0.837},{"epoch":50,"model":"shufflenet","acc":0.839},
    {"epoch":51,"model":"shufflenet","acc":0.840},{"epoch":52,"model":"shufflenet","acc":0.842},{"epoch":53,"model":"shufflenet","acc":0.842},{"epoch":54,"model":"shufflenet","acc":0.843},{"epoch":55,"model":"shufflenet","acc":0.851},
    {"epoch":56,"model":"shufflenet","acc":0.852},{"epoch":57,"model":"shufflenet","acc":0.853},{"epoch":58,"model":"shufflenet","acc":0.854},{"epoch":59,"model":"shufflenet","acc":0.857},{"epoch":60,"model":"shufflenet","acc":0.860},
    {"epoch":61,"model":"shufflenet","acc":0.862},{"epoch":62,"model":"shufflenet","acc":0.865},{"epoch":63,"model":"shufflenet","acc":0.868},{"epoch":64,"model":"shufflenet","acc":0.871},{"epoch":65,"model":"shufflenet","acc":0.874},
    {"epoch":66,"model":"shufflenet","acc":0.877},{"epoch":67,"model":"shufflenet","acc":0.877},{"epoch":68,"model":"shufflenet","acc":0.842},{"epoch":69,"model":"shufflenet","acc":0.870},{"epoch":70,"model":"shufflenet","acc":0.893},
    {"epoch":71,"model":"shufflenet","acc":0.880},{"epoch":72,"model":"shufflenet","acc":0.863},{"epoch":73,"model":"shufflenet","acc":0.877},{"epoch":74,"model":"shufflenet","acc":0.872},{"epoch":75,"model":"shufflenet","acc":0.885},
    {"epoch":76,"model":"shufflenet","acc":0.865},{"epoch":77,"model":"shufflenet","acc":0.843},{"epoch":78,"model":"shufflenet","acc":0.868},{"epoch":79,"model":"shufflenet","acc":0.862},{"epoch":80,"model":"shufflenet","acc":0.825},
    {"epoch":81,"model":"shufflenet","acc":0.866},{"epoch":82,"model":"shufflenet","acc":0.875},{"epoch":83,"model":"shufflenet","acc":0.880},{"epoch":84,"model":"shufflenet","acc":0.886},{"epoch":85,"model":"shufflenet","acc":0.875},
    {"epoch":86,"model":"shufflenet","acc":0.866},{"epoch":87,"model":"shufflenet","acc":0.878},{"epoch":88,"model":"shufflenet","acc":0.890},{"epoch":89,"model":"shufflenet","acc":0.840},{"epoch":90,"model":"shufflenet","acc":0.875},
    {"epoch":91,"model":"shufflenet","acc":0.900},{"epoch":92,"model":"shufflenet","acc":0.838},{"epoch":93,"model":"shufflenet","acc":0.866},{"epoch":94,"model":"shufflenet","acc":0.830},{"epoch":95,"model":"shufflenet","acc":0.870},
    {"epoch":96,"model":"shufflenet","acc":0.877},{"epoch":97,"model":"shufflenet","acc":0.878},{"epoch":98,"model":"shufflenet","acc":0.887},{"epoch":99,"model":"shufflenet","acc":0.880},{"epoch":100,"model":"shufflenet","acc":0.873},
    {"epoch":101,"model":"shufflenet","acc":0.882},{"epoch":102,"model":"shufflenet","acc":0.890},{"epoch":103,"model":"shufflenet","acc":0.867},{"epoch":104,"model":"shufflenet","acc":0.884},{"epoch":105,"model":"shufflenet","acc":0.880},
    {"epoch":106,"model":"shufflenet","acc":0.883},{"epoch":107,"model":"shufflenet","acc":0.878},{"epoch":108,"model":"shufflenet","acc":0.873},{"epoch":109,"model":"shufflenet","acc":0.885},{"epoch":110,"model":"shufflenet","acc":0.894},
    {"epoch":111,"model":"shufflenet","acc":0.885},{"epoch":112,"model":"shufflenet","acc":0.876},{"epoch":113,"model":"shufflenet","acc":0.900},{"epoch":114,"model":"shufflenet","acc":0.906},{"epoch":115,"model":"shufflenet","acc":0.899},
    {"epoch":116,"model":"shufflenet","acc":0.897},{"epoch":117,"model":"shufflenet","acc":0.897},{"epoch":118,"model":"shufflenet","acc":0.896},{"epoch":119,"model":"shufflenet","acc":0.890},{"epoch":120,"model":"shufflenet","acc":0.886},
    {"epoch":121,"model":"shufflenet","acc":0.895},{"epoch":122,"model":"shufflenet","acc":0.900},{"epoch":123,"model":"shufflenet","acc":0.888},{"epoch":124,"model":"shufflenet","acc":0.872},{"epoch":125,"model":"shufflenet","acc":0.894},
    {"epoch":126,"model":"shufflenet","acc":0.880},{"epoch":127,"model":"shufflenet","acc":0.892},{"epoch":128,"model":"shufflenet","acc":0.878},{"epoch":129,"model":"shufflenet","acc":0.892},{"epoch":130,"model":"shufflenet","acc":0.898},
    {"epoch":131,"model":"shufflenet","acc":0.900},{"epoch":132,"model":"shufflenet","acc":0.897},{"epoch":133,"model":"shufflenet","acc":0.895},{"epoch":134,"model":"shufflenet","acc":0.895},{"epoch":135,"model":"shufflenet","acc":0.894},
    {"epoch":136,"model":"shufflenet","acc":0.890},{"epoch":137,"model":"shufflenet","acc":0.892},{"epoch":138,"model":"shufflenet","acc":0.892},{"epoch":139,"model":"shufflenet","acc":0.893},{"epoch":140,"model":"shufflenet","acc":0.895},
    {"epoch":141,"model":"shufflenet","acc":0.899},{"epoch":142,"model":"shufflenet","acc":0.900},{"epoch":143,"model":"shufflenet","acc":0.900},{"epoch":144,"model":"shufflenet","acc":0.898},{"epoch":145,"model":"shufflenet","acc":0.899},
    {"epoch":146,"model":"shufflenet","acc":0.897},{"epoch":147,"model":"shufflenet","acc":0.880},{"epoch":148,"model":"shufflenet","acc":0.892},{"epoch":149,"model":"shufflenet","acc":0.896},{"epoch":150,"model":"shufflenet","acc":0.898},
    {"epoch":151,"model":"shufflenet","acc":0.893},{"epoch":152,"model":"shufflenet","acc":0.894},{"epoch":153,"model":"shufflenet","acc":0.895},{"epoch":154,"model":"shufflenet","acc":0.898},{"epoch":155,"model":"shufflenet","acc":0.900},
    {"epoch":156,"model":"shufflenet","acc":0.887},{"epoch":157,"model":"shufflenet","acc":0.900},{"epoch":158,"model":"shufflenet","acc":0.900},{"epoch":159,"model":"shufflenet","acc":0.900},{"epoch":160,"model":"shufflenet","acc":0.899},
    {"epoch":161,"model":"shufflenet","acc":0.900},{"epoch":162,"model":"shufflenet","acc":0.898},{"epoch":163,"model":"shufflenet","acc":0.895},{"epoch":164,"model":"shufflenet","acc":0.892},{"epoch":165,"model":"shufflenet","acc":0.897},
    {"epoch":166,"model":"shufflenet","acc":0.899},{"epoch":167,"model":"shufflenet","acc":0.898},{"epoch":168,"model":"shufflenet","acc":0.901},{"epoch":169,"model":"shufflenet","acc":0.908},{"epoch":170,"model":"shufflenet","acc":0.903},
    {"epoch":171,"model":"shufflenet","acc":0.900},{"epoch":172,"model":"shufflenet","acc":0.899},{"epoch":173,"model":"shufflenet","acc":0.900},{"epoch":174,"model":"shufflenet","acc":0.900},{"epoch":175,"model":"shufflenet","acc":0.900},
    {"epoch":176,"model":"shufflenet","acc":0.900},{"epoch":177,"model":"shufflenet","acc":0.897},{"epoch":178,"model":"shufflenet","acc":0.895},{"epoch":179,"model":"shufflenet","acc":0.899},{"epoch":180,"model":"shufflenet","acc":0.901},
    {"epoch":181,"model":"shufflenet","acc":0.900},{"epoch":182,"model":"shufflenet","acc":0.898},{"epoch":183,"model":"shufflenet","acc":0.898},{"epoch":184,"model":"shufflenet","acc":0.898},{"epoch":185,"model":"shufflenet","acc":0.902},
    {"epoch":186,"model":"shufflenet","acc":0.898},{"epoch":187,"model":"shufflenet","acc":0.900},{"epoch":188,"model":"shufflenet","acc":0.898},{"epoch":189,"model":"shufflenet","acc":0.896},{"epoch":190,"model":"shufflenet","acc":0.902},
    {"epoch":191,"model":"shufflenet","acc":0.900},{"epoch":192,"model":"shufflenet","acc":0.899},{"epoch":193,"model":"shufflenet","acc":0.898},{"epoch":194,"model":"shufflenet","acc":0.898},{"epoch":195,"model":"shufflenet","acc":0.898},
    {"epoch":196,"model":"shufflenet","acc":0.900},{"epoch":197,"model":"shufflenet","acc":0.900},{"epoch":198,"model":"shufflenet","acc":0.899},{"epoch":199,"model":"shufflenet","acc":0.900},{"epoch":200,"model":"shufflenet","acc":0.900}
  ]},
  "mark": {"type": "line", "strokeWidth": 2.7, "strokeJoin": "round", "clip": true},
  "encoding": {
    "x": {
      "field": "epoch", "type": "quantitative",
      "scale": {"domain": [-8.77, 209.1], "nice": false, "zero": false},
      "axis": {"values": [0, 25, 50, 75, 100, 125, 150, 175, 200], "title": "epoch", "tickSize": 6, "labelPadding": 15, "titlePadding": 8, "labelFlush": false}
    },
    "y": {
      "field": "acc", "type": "quantitative",
      "scale": {"domain": [0.5437, 1.0024], "nice": false, "zero": false},
      "axis": {"values": [0.6, 0.7, 0.8, 0.9, 1.0], "format": ".1f", "title": "acc", "tickSize": 7, "labelPadding": 19, "titlePadding": 0, "labelFlush": false,
        "labelBaseline": {"condition": {"test": "datum.value >= 0.99", "value": "top"}, "value": "middle"}}
    },
    "color": {
      "field": "model", "type": "nominal",
      "scale": {"domain": ["CBAM-efficientnet", "resnet101", "resnet50", "shufflenet"], "range": ["#0000ff", "#ff00ff", "#ffa500", "#00ff00"]},
      "legend": {
        "title": null, "orient": "none", "legendX": 467, "legendY": 391,
        "symbolType": "M-1.8,0H1.8", "symbolSize": 625, "symbolStrokeWidth": 3, "symbolOffset": 12,
        "labelFontSize": 26.5, "labelFont": "Liberation Serif", "labelColor": "#000000", "labelOffset": 21,
        "strokeColor": "#cccccc", "fillColor": "#ffffff", "padding": 4, "rowPadding": 4, "labelLimit": 400
      }
    }
  }
}
